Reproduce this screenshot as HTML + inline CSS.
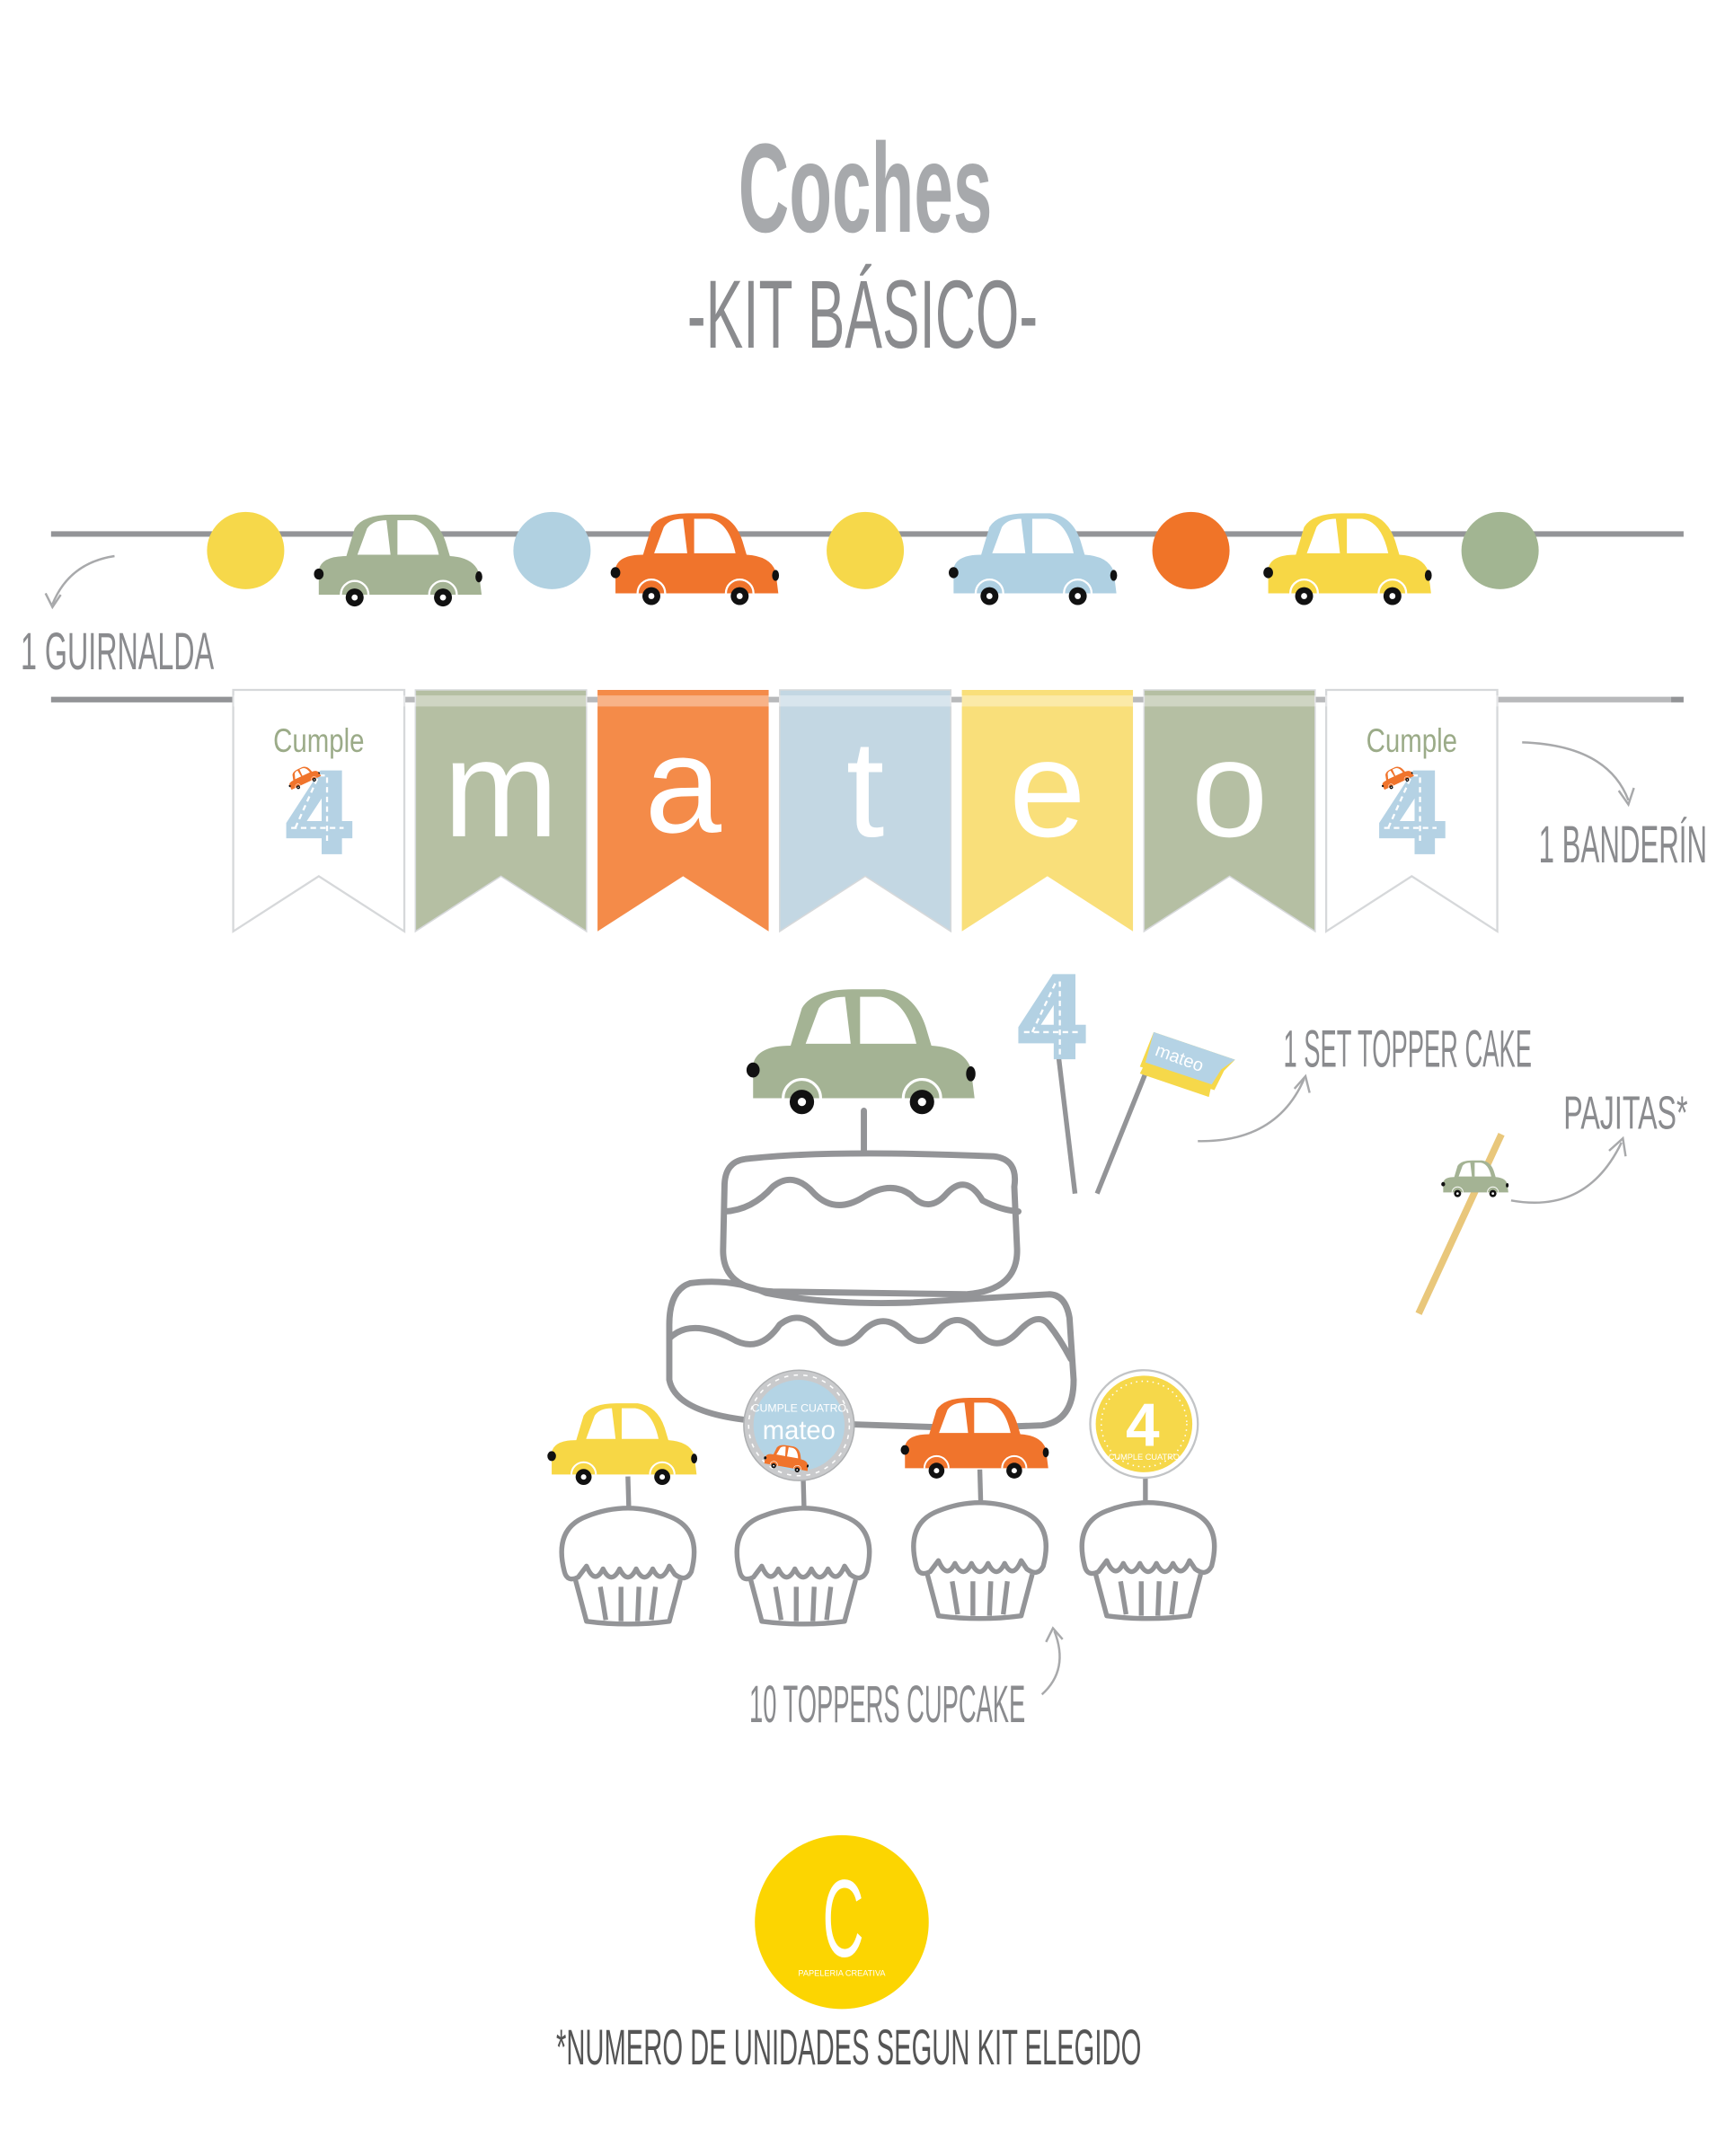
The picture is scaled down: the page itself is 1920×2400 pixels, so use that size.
<!DOCTYPE html>
<html><head><meta charset="utf-8"><style>
html,body{margin:0;padding:0;background:#fff;}
svg{display:block;}
.lbl{font-family:"Liberation Sans Narrow","Liberation Sans",sans-serif;fill:#8a8b8e;}
</style></head><body>
<svg width="1920" height="2400" viewBox="0 0 1250 1562.5" xmlns="http://www.w3.org/2000/svg">
<defs>
<g id="car">
 <path d="M2,58 L2,40 Q4,30 22,30 L28,10 Q34,0 55,0 L72,0 Q88,2 94,20 L97,30 Q114,31 118,42 L120,58 Z"/>
 <path d="M30,29 L37,10 Q41,4 51,4 L54,29 Z M59,4 L70,4 Q84,6 89,29 L59,29 Z" fill="#fff"/>
 <path d="M18,58 A10,10 0 0 1 38,58 M82,58 A10,10 0 0 1 102,58" fill="none" stroke="#fff" stroke-width="1.5"/>
 <circle cx="28" cy="60" r="6.5" fill="#111"/><circle cx="28" cy="60" r="2.2" fill="#fff"/>
 <circle cx="92" cy="60" r="6.5" fill="#111"/><circle cx="92" cy="60" r="2.2" fill="#fff"/>
 <ellipse cx="2" cy="43" rx="3.5" ry="4" fill="#111"/><ellipse cx="118" cy="45" rx="2.5" ry="4" fill="#111"/>
</g>
<g id="flag"><path d="M0,0 H124 V175 L62,135 L0,175 Z"/></g>
<g id="cup" fill="#fff" stroke="#939497" stroke-width="3.5" stroke-linejoin="round">
 <path d="M-38,42 L-30,72 Q0,76 30,72 L38,42"/>
 <path d="M-20,47 L-16,71 M-5,47 L-5,72 M8,47 L7,72 M20,47 L17,71" fill="none"/>
 <path d="M-46,36 Q-54,5 -30,-4 Q0,-16 30,-4 Q54,5 46,36 Q42,44 34,38 L30,32 Q24,46 18,34 Q12,46 6,34 Q0,46 -6,34 Q-12,46 -18,34 Q-24,46 -30,32 L-36,40 Q-44,44 -46,36 Z"/>
</g>
<g id="cumple">
 <text x="62" y="45" text-anchor="middle" font-family="Liberation Sans Narrow,Liberation Sans,sans-serif" font-size="24" fill="#9bab88" textLength="66" lengthAdjust="spacingAndGlyphs">Cumple</text>
 <text x="62" y="117" text-anchor="middle" font-family="Liberation Sans,sans-serif" font-weight="bold" font-size="82" fill="#b5d2e4" stroke="#b5d2e4" stroke-width="4">4</text>
 <path d="M45,100 L62,62 L68,62 L68,112 M42,100 L80,100" fill="none" stroke="#fff" stroke-width="1.5" stroke-dasharray="4 3"/>
 <g transform="translate(37,62) rotate(-25) scale(0.2)" fill="#f0742c"><use href="#car"/></g>
</g>
</defs>

<!-- Title -->
<text x="627" y="168" text-anchor="middle" font-family="Liberation Sans Narrow,Liberation Sans,sans-serif" font-weight="bold" font-size="92" fill="#a7a9ac" textLength="184" lengthAdjust="spacingAndGlyphs">Coches</text>
<text x="625" y="252" text-anchor="middle" class="lbl" font-size="70" fill="#a0a2a5" textLength="254" lengthAdjust="spacingAndGlyphs">-KIT BÁSICO-</text>

<!-- Garland -->
<line x1="37" y1="387" x2="1220" y2="387" stroke="#939497" stroke-width="4"/>
<circle cx="178" cy="399" r="28" fill="#f6d84a"/>
<circle cx="400" cy="399" r="28" fill="#b1d1e1"/>
<circle cx="627" cy="399" r="28" fill="#f6d84a"/>
<circle cx="863" cy="399" r="28" fill="#f07428"/>
<circle cx="1087" cy="399" r="28" fill="#a2b592"/>
<g transform="translate(229,373)" fill="#a4b394"><use href="#car"/></g>
<g transform="translate(444,372)" fill="#f0742c"><use href="#car"/></g>
<g transform="translate(689,372)" fill="#afd0e2"><use href="#car"/></g>
<g transform="translate(917,372)" fill="#f7d745"><use href="#car"/></g>
<path d="M83,403 Q50,408 38,438" fill="none" stroke="#a8a9ab" stroke-width="1.6"/>
<path d="M33,430 L38,440 L44,431" fill="none" stroke="#a8a9ab" stroke-width="1.6"/>
<text x="15" y="485" class="lbl" font-size="38" textLength="140" lengthAdjust="spacingAndGlyphs">1 GUIRNALDA</text>

<!-- Bunting -->
<line x1="37" y1="507" x2="1220" y2="507" stroke="#939497" stroke-width="4"/>
<g transform="translate(169,500)" fill="#fff" stroke="#d6d8da" stroke-width="1.5"><use href="#flag"/></g>
<g transform="translate(301,500)" fill="#b5bfa3" stroke="#d6d8da" stroke-width="1"><use href="#flag"/></g>
<g transform="translate(433,500)" fill="#f48b49"><use href="#flag"/></g>
<g transform="translate(565,500)" fill="#c3d7e3" stroke="#d6d8da" stroke-width="1"><use href="#flag"/></g>
<g transform="translate(697,500)" fill="#f9df7a"><use href="#flag"/></g>
<g transform="translate(829,500)" fill="#b5bfa3" stroke="#d6d8da" stroke-width="1"><use href="#flag"/></g>
<g transform="translate(961,500)" fill="#fff" stroke="#d6d8da" stroke-width="1.5"><use href="#flag"/></g>
<rect x="169" y="504" width="1042" height="8" fill="#fff" opacity="0.35"/>
<g transform="translate(169,500)"><use href="#cumple"/></g>
<g transform="translate(961,500)"><use href="#cumple"/></g>
<g font-family="Liberation Sans,DejaVu Sans,sans-serif" font-size="100" fill="#fff" text-anchor="middle">
 <text x="363" y="606">m</text><text x="495" y="603">a</text><text x="627" y="606">t</text><text x="759" y="606">e</text><text x="891" y="606">o</text>
</g>
<path d="M1103,538 Q1165,540 1180,580" fill="none" stroke="#a8a9ab" stroke-width="1.6"/>
<path d="M1173,573 L1180,583 L1184,571" fill="none" stroke="#a8a9ab" stroke-width="1.6"/>
<text x="1115" y="625" class="lbl" font-size="38" textLength="122" lengthAdjust="spacingAndGlyphs">1 BANDERÍN</text>

<!-- Cake -->
<g fill="none" stroke="#939497" stroke-width="4.5" stroke-linecap="round" stroke-linejoin="round">
 <path d="M626,805 L626,835"/>
 <path d="M540,840 Q600,833 720,838 Q738,840 735,860 L737,905 Q738,935 700,938 L560,936 Q523,934 524,905 L525,860 Q525,842 540,840 Z"/>
 <path d="M525,878 Q545,877 560,860 Q575,848 590,865 Q605,880 625,868 Q645,855 660,866 Q673,880 686,865 Q700,850 712,870 Q725,877 738,878"/>
 <path d="M500,930 Q530,926 555,937 Q600,946 660,944 L760,938 Q772,938 775,955 L778,1000 Q778,1030 755,1033 L700,1035 L550,1030 Q490,1025 485,1000 L485,960 Q485,935 500,930 Z"/>
 <path d="M485,970 Q500,955 530,970 Q550,982 565,960 Q580,948 595,965 Q610,982 625,965 Q640,950 655,965 Q668,980 682,962 Q695,950 708,965 Q722,982 738,965 Q752,950 760,960 Q768,970 776,985"/>
</g>
<g transform="translate(543,717) scale(1.36)" fill="#a4b394"><use href="#car"/></g>

<!-- Toppers for cake -->
<line x1="767" y1="765" x2="779" y2="865" stroke="#939497" stroke-width="3.5"/>
<text x="762" y="765" text-anchor="middle" font-family="Liberation Sans,sans-serif" font-weight="bold" font-size="82" fill="#b3d1e3" stroke="#b3d1e3" stroke-width="5">4</text>
<path d="M748,748 L765,712 L768,712 L768,765 M742,748 L782,748" fill="none" stroke="#fff" stroke-width="1.5" stroke-dasharray="4 3"/>
<line x1="795" y1="865" x2="830" y2="778" stroke="#939497" stroke-width="3.5"/>
<path d="M836,748 L895,768 L887,776 L880,790 L826,773 Z" fill="#f6d84a"/>
<path d="M836,748 L895,768 L885,775 L878,786 L830,770 Z" fill="#b5d3e5"/>
<path d="M830,770 L878,786 L876,795 L826,778 Z" fill="#f6d84a"/>
<text x="855" y="771" text-anchor="middle" font-family="Liberation Sans,sans-serif" font-size="13" fill="#fff" transform="rotate(20 855 766)">mateo</text>
<path d="M868,827 Q925,828 945,782" fill="none" stroke="#a8a9ab" stroke-width="1.6"/>
<path d="M938,789 L946,780 L949,792" fill="none" stroke="#a8a9ab" stroke-width="1.6"/>
<text x="930" y="773" class="lbl" font-size="38" textLength="180" lengthAdjust="spacingAndGlyphs">1 SET TOPPER CAKE</text>

<!-- Straw -->
<line x1="1088" y1="822" x2="1028" y2="952" stroke="#e9c77b" stroke-width="5"/>
<g transform="translate(1045,841) scale(0.4)" fill="#a4b394"><use href="#car"/></g>
<path d="M1095,870 Q1150,880 1175,828" fill="none" stroke="#a8a9ab" stroke-width="1.6"/>
<path d="M1166,834 L1176,825 L1178,838" fill="none" stroke="#a8a9ab" stroke-width="1.6"/>
<text x="1133" y="818" class="lbl" font-size="34" textLength="90" lengthAdjust="spacingAndGlyphs">PAJITAS*</text>

<!-- Cupcakes -->
<g stroke="#939497" stroke-width="3.5">
 <line x1="455" y1="1070" x2="456" y2="1105"/><line x1="582" y1="1070" x2="583" y2="1105"/>
 <line x1="710" y1="1065" x2="711" y2="1100"/><line x1="830" y1="1068" x2="830" y2="1100"/>
</g>
<g transform="translate(455,1103)"><use href="#cup"/></g>
<g transform="translate(582,1103)"><use href="#cup"/></g>
<g transform="translate(710,1099)"><use href="#cup"/></g>
<g transform="translate(832,1099)"><use href="#cup"/></g>
<g transform="translate(398,1017) scale(0.89)" fill="#f7d745"><use href="#car"/></g>
<g transform="translate(654,1013) scale(0.88)" fill="#f0742c"><use href="#car"/></g>
<circle cx="579" cy="1033" r="40" fill="#c9cacc" stroke="#aeb0b2" stroke-width="1"/>
<circle cx="579" cy="1033" r="33" fill="#b4d4e5"/>
<circle cx="579" cy="1033" r="36.5" fill="none" stroke="#fff" stroke-width="1" stroke-dasharray="3 4"/>
<text x="579" y="1023" text-anchor="middle" font-family="Liberation Sans Narrow,sans-serif" font-size="8" fill="#fff">CUMPLE CUATRO</text>
<text x="579" y="1043" text-anchor="middle" font-family="Liberation Sans,sans-serif" font-size="19" fill="#fff">mateo</text>
<g transform="translate(556,1045) rotate(10) scale(0.27)" fill="#f0742c"><use href="#car"/></g>
<circle cx="829" cy="1032" r="39" fill="#fff" stroke="#c2c4c6" stroke-width="1.5"/>
<circle cx="829" cy="1032" r="35" fill="#f6d84a"/>
<circle cx="829" cy="1032" r="31" fill="none" stroke="#fff" stroke-width="1" stroke-dasharray="1 3"/>
<text x="828" y="1048" text-anchor="middle" font-family="Liberation Sans,sans-serif" font-weight="bold" font-size="44" fill="#fff">4</text>
<text x="829" y="1058" text-anchor="middle" font-family="Liberation Sans Narrow,sans-serif" font-size="6" fill="#fff">CUMPLE CUATRO</text>
<path d="M755,1228 Q775,1210 764,1182" fill="none" stroke="#a8a9ab" stroke-width="1.6"/>
<path d="M758,1190 L763,1180 L770,1188" fill="none" stroke="#a8a9ab" stroke-width="1.6"/>
<text x="543" y="1248" class="lbl" font-size="38" textLength="200" lengthAdjust="spacingAndGlyphs">10 TOPPERS CUPCAKE</text>

<!-- Logo -->
<circle cx="610" cy="1393" r="63" fill="#fcd501"/>
<text x="611" y="1418" text-anchor="middle" font-family="Liberation Sans Narrow,Liberation Sans,sans-serif" font-size="80" fill="#fff" textLength="30" lengthAdjust="spacingAndGlyphs">C</text>
<text x="610" y="1432" text-anchor="middle" font-family="Liberation Sans Narrow,sans-serif" font-size="6" fill="#fff">PAPELERIA CREATIVA</text>

<text x="403" y="1496" class="lbl" font-size="36" style="fill:#555" textLength="424" lengthAdjust="spacingAndGlyphs">*NUMERO DE UNIDADES SEGUN KIT ELEGIDO</text>
</svg>
</body></html>
